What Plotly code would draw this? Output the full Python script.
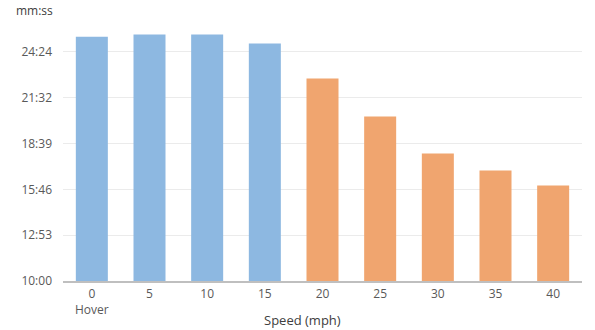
import plotly.graph_objects as go

categories = ["0<br>Hover", "5", "10", "15", "20", "25", "30", "35", "40"]
# flight time in seconds
flight_time_s = [1521, 1529, 1529, 1495, 1363, 1220, 1081, 1017, 960]
bar_colors = ["#8DB8E1"] * 4 + ["#F0A56F"] * 5
axis_min = 600
tick_step = 172.8
tick_vals = [axis_min + tick_step * k for k in range(7)]
tick_text = ["10:00", "12:53", "15:46", "18:39", "21:32", "24:24", ""]

fig = go.Figure()
fig.add_trace(go.Bar(
    x=categories, y=[v - axis_min for v in flight_time_s], base=axis_min,
    marker_color=bar_colors, marker_line_width=0,
))

font = "Open Sans, Liberation Sans, sans-serif"
fig.update_layout(
    width=595, height=330,
    margin=dict(l=63, r=13, t=6, b=49),
    paper_bgcolor="white", plot_bgcolor="white",
    bargap=0.445, showlegend=False,
    font=dict(family=font, size=12, color="#595959"),
    xaxis=dict(
        type="category", range=[-0.5, 8.5],
        showline=True, linecolor="#BFBFBF", linewidth=1.5,
        ticks="", showgrid=False, tickfont=dict(size=12, color="#595959"),
        ticklabelstandoff=1,
    ),
    yaxis=dict(
        range=[axis_min, axis_min + tick_step * 6], tickvals=tick_vals, ticktext=tick_text,
        showgrid=True, gridcolor="#EBEBEB", gridwidth=1,
        zeroline=False, showline=False, ticks="",
        tickfont=dict(size=12, color="#595959"), ticklabelstandoff=10,
    ),
    annotations=[
        dict(text="mm:ss", xref="paper", yref="paper", x=0, y=1,
             xanchor="right", yanchor="top", xshift=-8, yshift=6,
             showarrow=False, font=dict(size=12, color="#404040", family=font)),
        dict(text="Speed (mph)", xref="paper", yref="paper", x=0.4624, y=0,
             xanchor="center", yanchor="middle", yshift=-39,
             showarrow=False, font=dict(size=13, color="#404040", family=font)),
    ],
)
fig.write_html("out.html")
